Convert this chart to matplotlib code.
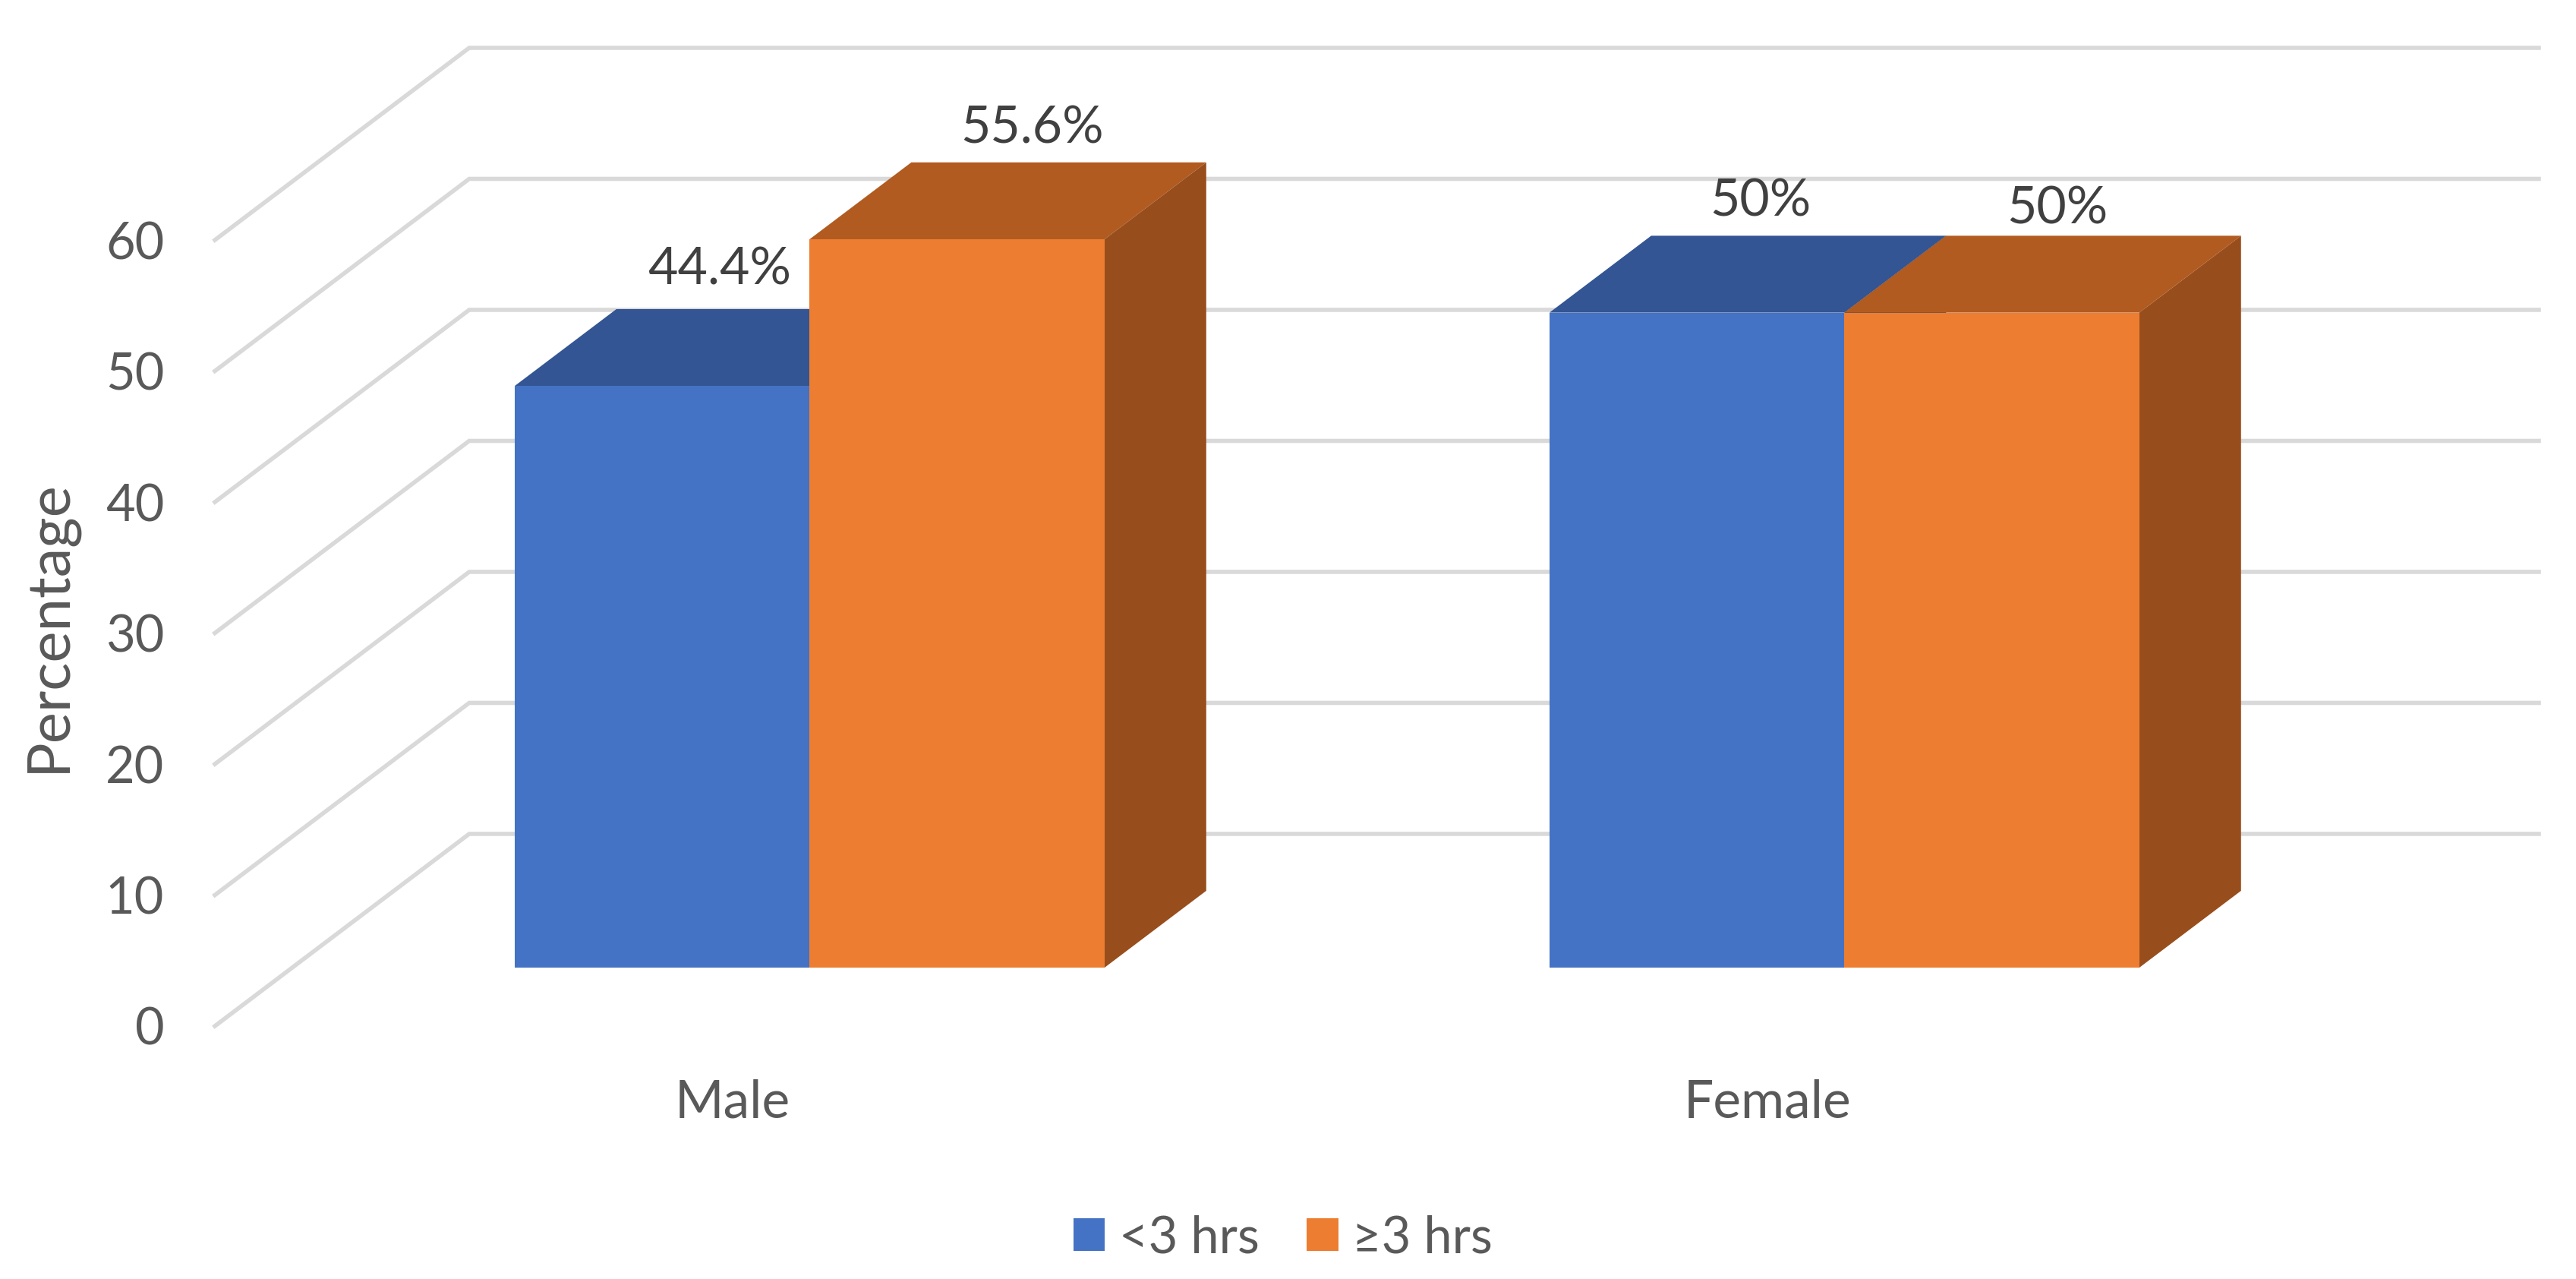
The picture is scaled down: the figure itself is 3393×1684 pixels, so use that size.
import matplotlib
matplotlib.use('Agg')
import matplotlib.pyplot as plt
from matplotlib.patches import Patch

plt.rcParams['font.family'] = ['Lato', 'DejaVu Sans']

# data
categories = ['Male', 'Female']
series_names = ['<3 hrs', '≥3 hrs']
under_3 = [44.4, 50]
over_3 = [55.6, 50]
under_3_labels = ['44.4%', '50%']
over_3_labels = ['55.6%', '50%']
y_ticks = [0, 10, 20, 30, 40, 50, 60]

# fake 3d: how far the back wall is shifted from the front, in data units
depth_x = 0.2458
depth_y = 14.67
near = 0.304
far = 0.704
bar_w = 0.285

blue = ['#4472C4', '#335593', '#2A4A80']
orange = ['#ED7D31', '#B25B20', '#984E1C']
grid_c = '#D9D9D9'
W, H = 3393, 1684

fig = plt.figure(figsize=(W / 100, H / 100), dpi=100)
ax = fig.add_axes([283 / W, (H - 1351) / H, 3061 / W, 1288 / H])
ax.set_xlim(0, 2 + depth_x)
ax.set_ylim(0, 60 + depth_y)
for s in ax.spines.values():
    s.set_visible(False)

# walls
for v in y_ticks:
    ax.plot([0, depth_x, 2 + depth_x], [v, v + depth_y, v + depth_y],
            color=grid_c, lw=4, zorder=1, clip_on=False, solid_joinstyle='miter')


def draw_bar(x, value, colors, z):
    # x is the left edge of the bar on the front of the floor
    x0 = x + near * depth_x
    x1 = x0 + bar_w
    x2 = x + far * depth_x
    x3 = x2 + bar_w
    y0 = near * depth_y
    y2 = far * depth_y
    ax.bar(x0, value, bar_w, bottom=y0, align='edge', color=colors[0], lw=0, zorder=z + 0.2)
    ax.fill([x0, x1, x3, x2], [y0 + value, y0 + value, y2 + value, y2 + value],
            color=colors[1], lw=0, zorder=z)
    ax.fill([x1, x3, x3, x1], [y0, y2, y2 + value, y0 + value],
            color=colors[2], lw=0, zorder=z + 0.1)
    return (x2 + x3) / 2, y2 + value


label_offsets = [[(-42, 37), (-25, 32)], [(-36, 32), (-34, 25)]]  # points
for i in range(len(categories)):
    center = i + 0.5
    tops = [
        draw_bar(center - bar_w, under_3[i], blue, 2),
        draw_bar(center, over_3[i], orange, 3),
    ]
    texts = [under_3_labels[i], over_3_labels[i]]
    for j in range(2):
        ax.annotate(texts[j], xy=tops[j], xytext=label_offsets[i][j],
                    textcoords='offset points', ha='center', va='center',
                    fontsize=49, color='#404040', zorder=6)

ax.set_yticks(y_ticks)
ax.set_yticklabels([str(v) for v in y_ticks], fontsize=48, color='#595959')
ax.set_xticks([i + 0.5 for i in range(len(categories))])
ax.set_xticklabels(categories, fontsize=50, color='#595959')
ax.tick_params(axis='y', length=0, pad=48)
ax.tick_params(axis='x', length=0, pad=50)
ax.set_ylabel('Percentage', fontsize=56, color='#595959', va='center')
ax.yaxis.set_label_coords((65 - 283) / 3061, (1351 - 824) / 1288)

handles = [Patch(color=blue[0], lw=0), Patch(color=orange[0], lw=0)]
fig.legend(handles, series_names, ncols=2, loc='center',
           bbox_to_anchor=(1690 / W, (H - 1630) / H), frameon=False, fontsize=48,
           handlelength=0.625, handleheight=0.625, handletextpad=0.28,
           columnspacing=0.93, borderpad=0, labelcolor='#595959')

fig.savefig('out.png', dpi=100)
